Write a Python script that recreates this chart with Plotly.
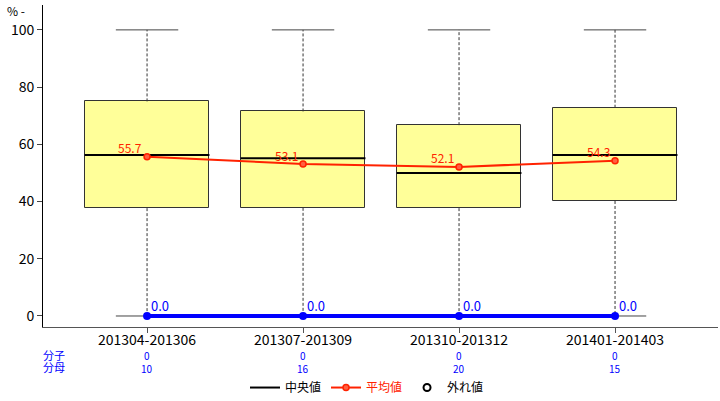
import plotly.graph_objects as go

categories = ["201304-201306", "201307-201309", "201310-201312", "201401-201403"]
q1 = [37.7, 37.8, 37.7, 40.2]
median = [56.3, 55.1, 50.0, 56.3]
q3 = [75.0, 71.5, 66.7, 72.8]
wlow = [0, 0, 0, 0]
whigh = [100, 100, 100, 100]
means = [55.7, 53.1, 52.1, 54.3]
rates = [0.0, 0.0, 0.0, 0.0]
numer = [0, 0, 0, 0]
denom = [10, 16, 20, 15]

xs = list(range(len(categories)))
BW = 0.8
CW = 0.4
FONT = "Noto Sans CJK JP"
RED = "#FF2200"
BLUE = "#0000FF"


def segs(xc, ys, half):
    X, Y = [], []
    for x, y in zip(xc, ys):
        X += [x - half, x + half, None]
        Y += [y, y, None]
    return X, Y


def vsegs(xc, y0, y1):
    X, Y = [], []
    for x, a, b in zip(xc, y0, y1):
        X += [x, x, None]
        Y += [a, b, None]
    return X, Y


fig = go.Figure()

# whiskers (dotted)
wx, wy = vsegs(xs, q3, whigh)
wx2, wy2 = vsegs(xs, q1, wlow)
fig.add_trace(go.Scatter(x=wx + wx2, y=wy + wy2, mode="lines",
                         line=dict(color="#333333", width=1, dash="3px,2px"),
                         showlegend=False, hoverinfo="skip"))
# boxes
fig.add_trace(go.Bar(x=xs, y=[b - a for a, b in zip(q1, q3)], base=q1, width=BW,
                     marker=dict(color="#FFFF99", line=dict(color="#333333", width=1)),
                     showlegend=False, hoverinfo="skip"))
# caps
cx, cy = segs(xs, whigh, CW / 2)
cx2, cy2 = segs(xs, wlow, CW / 2)
fig.add_trace(go.Scatter(x=cx + cx2, y=cy + cy2, mode="lines",
                         line=dict(color="#444444", width=1),
                         showlegend=False, hoverinfo="skip"))
# medians
mx, my = segs(xs, median, BW / 2)
fig.add_trace(go.Scatter(x=mx, y=my, mode="lines", name="中央値",
                         line=dict(color="black", width=2), hoverinfo="skip"))
# means
fig.add_trace(go.Scatter(x=xs, y=means, mode="lines+markers",
                         name='<span style="color:#FF2200">平均値</span>',
                         line=dict(color=RED, width=2),
                         marker=dict(color="#FF6040", size=6, line=dict(color=RED, width=1.5)),
                         hoverinfo="skip"))
# outlier legend entry
fig.add_trace(go.Scatter(x=[None], y=[None], mode="markers", name="外れ値",
                         marker=dict(symbol="circle-open", color="black", size=7,
                                     line=dict(width=2))))
# rate line
fig.add_trace(go.Scatter(x=xs, y=rates, mode="lines+markers",
                         line=dict(color=BLUE, width=4),
                         marker=dict(color=BLUE, size=8),
                         showlegend=False, hoverinfo="skip"))

annotations = [
    dict(text="分子", x=-0.003, y=-0.088, xref="paper", yref="paper", showarrow=False,
         xanchor="left", yanchor="middle", font=dict(color=BLUE, size=11, family=FONT)),
    dict(text="分母", x=-0.003, y=-0.125, xref="paper", yref="paper", showarrow=False,
         xanchor="left", yanchor="middle", font=dict(color=BLUE, size=11, family=FONT)),
    dict(text="% -", x=-0.04, y=1.0155, xref="paper", yref="paper", showarrow=False,
         xanchor="center", yanchor="top", font=dict(color="black", size=12, family=FONT)),
]
for x, m in zip(xs, means):
    annotations.append(dict(text=f"{m:.1f}", x=x, y=m, xref="x", yref="y", showarrow=False,
                            xanchor="right", yanchor="middle", xshift=-3, yshift=9,
                            font=dict(color=RED, size=12, family=FONT)))
for x, r in zip(xs, rates):
    annotations.append(dict(text=f"{r:.1f}", x=x, y=r, xref="x", yref="y", showarrow=False,
                            xanchor="left", yanchor="middle", xshift=2, yshift=10,
                            font=dict(color=BLUE, size=13, family=FONT)))
for x, n, d in zip(xs, numer, denom):
    annotations.append(dict(text=str(n), x=x, y=-0.089, xref="x", yref="paper", showarrow=False,
                            yanchor="middle", font=dict(color=BLUE, size=10, family=FONT)))
    annotations.append(dict(text=str(d), x=x, y=-0.13, xref="x", yref="paper", showarrow=False,
                            yanchor="middle", font=dict(color=BLUE, size=10, family=FONT)))

fig.update_layout(
    width=720, height=401,
    margin=dict(l=43, r=2, t=5, b=74, autoexpand=False),
    paper_bgcolor="white", plot_bgcolor="white",
    font=dict(family=FONT, size=14, color="black"),
    showlegend=True,
    legend=dict(orientation="h", x=0.48, xanchor="center", y=-0.188, yanchor="middle",
                font=dict(size=12, color="black", family=FONT), bgcolor="rgba(0,0,0,0)"),
    xaxis=dict(range=[-0.667, 3.66], tickvals=xs, ticktext=categories, showgrid=False,
               zeroline=False, showline=True, linecolor="#555555", linewidth=1,
               ticks="outside", ticklen=5, tickcolor="#555555", automargin=False,
               ticklabelstandoff=-5,
               tickfont=dict(size=14, family=FONT)),
    yaxis=dict(range=[-3.85, 108.7], tickvals=[0, 20, 40, 60, 80, 100], showgrid=False,
               zeroline=False, showline=True, linecolor="black", linewidth=1,
               ticks="outside", ticklen=5, automargin=False,
               tickfont=dict(size=14, family=FONT)),
    annotations=annotations,
    bargap=0,
)

fig.write_html("out.html", config={"displayModeBar": False},
               post_script="document.body.style.margin='0px';")
